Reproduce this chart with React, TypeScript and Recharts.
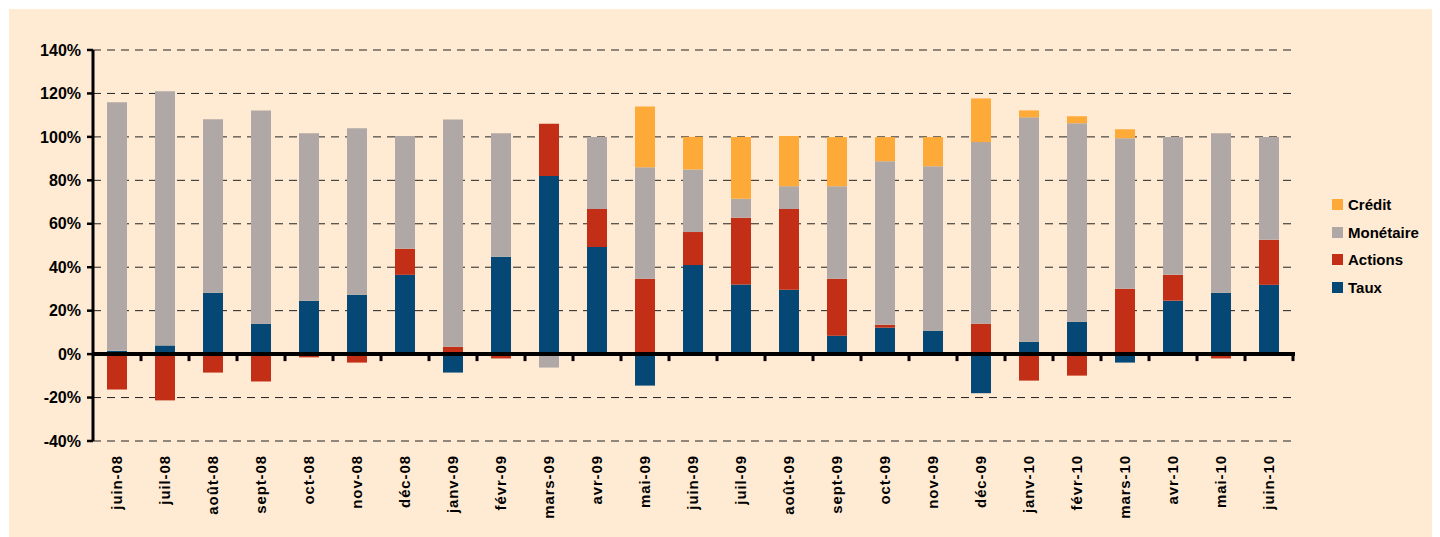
import React from 'react';
import { BarChart, Bar, XAxis, YAxis, CartesianGrid, ReferenceLine, Legend } from 'recharts';

const categories = ['juin-08','juil-08','août-08','sept-08','oct-08','nov-08','déc-08','janv-09','févr-09','mars-09','avr-09','mai-09','juin-09','juil-09','août-09','sept-09','oct-09','nov-09','déc-09','janv-10','févr-10','mars-10','avr-10','mai-10','juin-10'];
const taux = [1.5, 4, 28.2, 14, 24.6, 27.3, 36.5, -8.5, 44.8, 82, 49.3, -14.5, 41, 32, 29.6, 8.5, 12.2, 10.8, -18, 5.7, 14.9, -3.9, 24.6, 28.2, 31.9];
const actions = [-16.3, -21.3, -8.5, -12.6, -1.5, -3.9, 12, 3.4, -2, 24, 17.5, 34.7, 15.2, 30.8, 37.2, 26.2, 1.3, 0, 14, -12.2, -9.9, 30.1, 11.9, -2, 20.7];
const monetaire = [114.4, 117, 79.9, 98.2, 77.1, 76.7, 51.9, 104.6, 56.9, -6.2, 33.1, 51.3, 28.8, 8.7, 10.5, 42.6, 75.3, 75.7, 83.6, 103.3, 91.4, 69.3, 63.4, 73.5, 47.3];
const credit = [0, 0, 0, 0, 0, 0, 0, 0, 0, 0, 0, 28, 15, 28.5, 23.1, 22.6, 11.1, 13.4, 20.1, 3.2, 3.2, 4.1, 0, 0, 0];
const yTicks = [-40, -20, 0, 20, 40, 60, 80, 100, 120, 140];

const series = [
  { key: 'taux', name: 'Taux', color: '#054875' },
  { key: 'actions', name: 'Actions', color: '#C32E16' },
  { key: 'monetaire', name: 'Monétaire', color: '#B0A8A6' },
  { key: 'credit', name: 'Crédit', color: '#FDAA38' },
];

const data = categories.map((c, i) => ({
  cat: c,
  taux: taux[i],
  actions: actions[i],
  monetaire: monetaire[i],
  credit: credit[i],
}));

const FONT = '"Liberation Sans", Arial, sans-serif';

const XTick = (props: any) => {
  const { x, y, payload } = props;
  return (
    <g transform={`translate(${x},${y})`}>
      <text
        transform="rotate(-90)"
        textAnchor="end"
        dy="0.36em"
        fontFamily={FONT}
        fontWeight="bold"
        fontSize={15}
        letterSpacing={0.9}
        fill="#000"
      >
        {payload.value}
      </text>
    </g>
  );
};

const ZeroLine = (props: any) => {
  const { x1, y1, x2 } = props;
  const n = categories.length;
  const step = (x2 - x1) / n;
  const ticks = [];
  for (let i = 1; i <= n; i++) {
    const tx = x1 + i * step;
    ticks.push(<line key={i} x1={tx} x2={tx} y1={y1} y2={y1 + 7} stroke="#000" strokeWidth={3} />);
  }
  return (
    <g>
      <line x1={x1} x2={x2 + 2} y1={y1} y2={y1} stroke="#000" strokeWidth={4} />
      {ticks}
    </g>
  );
};

const LegendContent = () => (
  <div style={{ fontFamily: FONT, fontWeight: 'bold', fontSize: 15, color: '#000' }}>
    {[...series].reverse().map((s) => (
      <div key={s.key} style={{ display: 'flex', alignItems: 'center', height: 27.5 }}>
        <span style={{ display: 'inline-block', width: 11, height: 11, background: s.color, marginRight: 5 }} />
        <span>{s.name}</span>
      </div>
    ))}
  </div>
);

export default function App() {
  return (
    <div style={{ marginLeft: 1, marginTop: 1, width: 1431, height: 528, background: '#FFEBD3' }}>
      <style>{`body{overflow:hidden}`}</style>
      <BarChart
        width={1431}
        height={528}
        data={data}
        stackOffset="sign"
        margin={{ top: 41, right: 147, left: 0, bottom: 0 }}
        barSize={20}
      >
        <CartesianGrid vertical={false} stroke="#222" strokeDasharray="8 6" />
        <XAxis
          dataKey="cat"
          interval={0}
          height={96}
          axisLine={false}
          tickLine={false}
          tickSize={0}
          tickMargin={14}
          tick={<XTick />}
        />
        <YAxis
          width={84}
          domain={[-40, 140]}
          ticks={yTicks}
          interval={0}
          tickFormatter={(v: number) => `${v}%`}
          axisLine={{ stroke: '#000', strokeWidth: 3 }}
          tickLine={{ stroke: '#000', strokeWidth: 2.5 }}
          tickSize={6}
          tickMargin={6}
          tick={{ fontFamily: FONT, fontWeight: 'bold', fontSize: 16, fill: '#000' }}
        />
        {series.map((s) => (
          <Bar key={s.key} dataKey={s.key} name={s.name} stackId="a" fill={s.color} isAnimationActive={false} />
        ))}
        <ReferenceLine y={0} shape={<ZeroLine />} ifOverflow="visible" />
        <Legend
          layout="vertical"
          align="center"
          verticalAlign="middle"
          content={<LegendContent />}
          wrapperStyle={{ position: 'absolute', left: 1323, top: 182, width: 110, height: 112 }}
        />
      </BarChart>
    </div>
  );
}
